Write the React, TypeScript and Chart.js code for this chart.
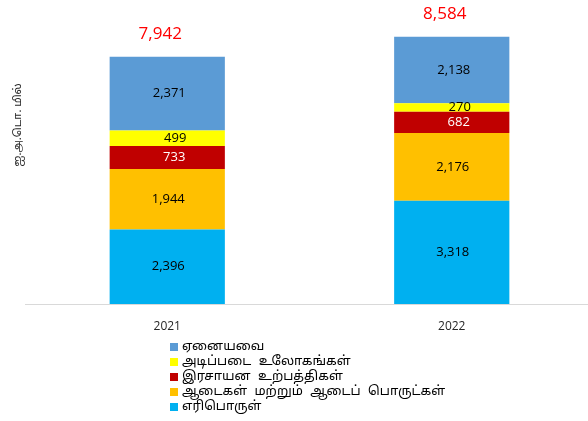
import React, { useEffect, useRef } from "react";
import { Chart, registerables } from "chart.js";

Chart.register(...registerables);

const categories = ["2021", "2022"];
const seriesNames = [
  "எரிபொருள்",
  "ஆடைகள் மற்றும் ஆடைப் பொருட்கள்",
  "இரசாயன உற்பத்திகள்",
  "அடிப்படை உலோகங்கள்",
  "ஏனையவை",
];
const fuel = [2396, 3318];
const apparel = [1944, 2176];
const chemicals = [733, 682];
const metals = [499, 270];
const others = [2371, 2138];
const totals = [7942, 8584];
const yAxisTitle = "ஐ.அ.டொ. மில்";

const seriesValues = [fuel, apparel, chemicals, metals, others];
const seriesColors = ["#00B0F0", "#FFC000", "#C00000", "#FFFF00", "#5B9BD5"];
const labelColors = ["#000000", "#000000", "#FFFFFF", "#000000", "#000000"];
const labelShiftX = [1, 1, 7, 8, 2];

const numFont = '"Open Sans", "Noto Sans", sans-serif';
const tamilFont = '"Noto Sans Tamil", "Noto Sans", "Lohit Tamil", sans-serif';

const fmt = (v: number) => v.toLocaleString("en-US");

const labelsPlugin = {
  id: "segLabels",
  afterDatasetsDraw(chart: any) {
    const ctx = chart.ctx;
    ctx.save();
    ctx.textAlign = "center";
    ctx.textBaseline = "middle";
    ctx.font = `13px ${numFont}`;
    chart.data.datasets.forEach((ds: any, i: number) => {
      const meta = chart.getDatasetMeta(i);
      meta.data.forEach((el: any, j: number) => {
        const { x, y, base } = el.getProps(["x", "y", "base"], true);
        ctx.fillStyle = labelColors[i];
        ctx.fillText(fmt(ds.data[j]), x + labelShiftX[i], (y + base) / 2);
      });
    });
    const topMeta = chart.getDatasetMeta(chart.data.datasets.length - 1);
    ctx.font = `17px ${numFont}`;
    ctx.fillStyle = "#FF0000";
    topMeta.data.forEach((el: any, j: number) => {
      const { x, y } = el.getProps(["x", "y"], true);
      ctx.fillText(fmt(totals[j]), x - 7, y - 23);
    });
    ctx.restore();
  },
};

export default function App() {
  const ref = useRef<HTMLCanvasElement | null>(null);

  useEffect(() => {
    if (!ref.current) return;
    const chart = new Chart(ref.current, {
      type: "bar",
      data: {
        labels: categories,
        datasets: seriesNames.map((name, i) => ({
          label: name,
          data: seriesValues[i],
          backgroundColor: seriesColors[i],
          borderWidth: 0,
          categoryPercentage: 1,
          barPercentage: 0.405,
        })),
      },
      options: {
        responsive: false,
        animation: false,
        devicePixelRatio: 1,
        layout: { padding: { left: 12, top: 26, right: 6, bottom: 77 } },
        plugins: { legend: { display: false }, tooltip: { enabled: false } },
        scales: {
          x: {
            stacked: true,
            grid: { display: false, drawTicks: false },
            border: { color: "#D9D9D9", width: 1 },
            ticks: { padding: 15, color: "#262626", font: { family: numFont, size: 12 } },
            afterFit: (s: any) => {
              s.height = 40;
            },
          },
          y: {
            stacked: true,
            min: 0,
            max: 11500,
            grid: { display: false },
            border: { display: false },
            ticks: { display: false },
            title: {
              display: true,
              text: yAxisTitle,
              padding: 0,
              color: "#262626",
              font: { family: tamilFont, size: 11 },
            },
            afterFit: (s: any) => {
              s.width = 13;
            },
          },
        },
      } as any,
      plugins: [labelsPlugin],
    });
    return () => chart.destroy();
  }, []);

  const legendOrder = [4, 3, 2, 1, 0];

  return (
    <div
      style={{
        position: "fixed",
        left: 0,
        top: 0,
        width: 588,
        height: 421,
        overflow: "hidden",
        background: "#FFFFFF",
      }}
    >
      <canvas
        ref={ref}
        width={600}
        height={501}
        style={{ position: "absolute", left: 0, top: -80, width: 600, height: 501 }}
      />
      <div style={{ position: "absolute", left: 170, top: 340 }}>
        {legendOrder.map((i) => (
          <div
            key={i}
            style={{
              display: "flex",
              alignItems: "center",
              height: 14.8,
              fontFamily: tamilFont,
              fontSize: 13,
              wordSpacing: 4,
              color: "#000000",
              whiteSpace: "pre",
            }}
          >
            <span
              style={{
                display: "inline-block",
                width: 8,
                height: 8,
                background: seriesColors[i],
                marginRight: 4,
              }}
            />
            <span>{seriesNames[i]}</span>
          </div>
        ))}
      </div>
    </div>
  );
}
